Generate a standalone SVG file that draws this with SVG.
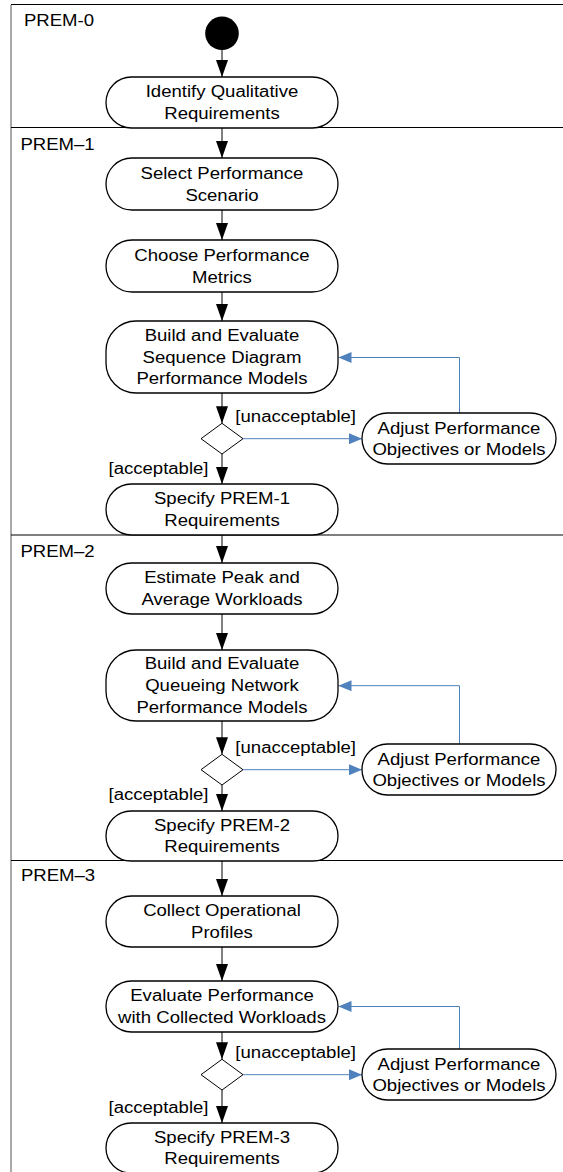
<svg xmlns="http://www.w3.org/2000/svg" width="563" height="1172" viewBox="0 0 563 1172">
<style>
  .bg { fill: #ffffff; }
  .frame { stroke: #555555; stroke-width: 1; fill: none; }
  .sep { stroke: #000000; stroke-width: 1; fill: none; }
  .act { fill: #ffffff; stroke: #000000; stroke-width: 1.3; }
  .dec { fill: #ffffff; stroke: #000000; stroke-width: 1; }
  .flow { stroke: #000000; stroke-width: 1; fill: none; marker-end: url(#ah); }
  .blue { stroke: #4F81BD; stroke-width: 1; fill: none; marker-end: url(#bh); }
  text { font-family: "Liberation Sans", Arial, Helvetica, sans-serif; font-size: 16px; fill: #000000; text-anchor: middle; transform-box: fill-box; transform-origin: center; transform: scaleX(1.16); }
</style>
<defs>
  <marker id="ah" viewBox="0 0 17 12" refX="17" refY="6" markerWidth="17" markerHeight="12" markerUnits="userSpaceOnUse" orient="auto">
    <path d="M0,0 L17,6 L0,12 Z" fill="#000000"/>
  </marker>
  <marker id="bh" viewBox="0 0 13 11" refX="13" refY="5.5" markerWidth="13" markerHeight="11" markerUnits="userSpaceOnUse" orient="auto">
    <path d="M0,0 L13,5.5 L0,11 Z" fill="#4F81BD"/>
  </marker>
</defs>
<rect class="bg" x="0" y="0" width="563" height="1172"/>

<g id="lanes">
  <line class="frame" x1="11" y1="5" x2="11" y2="1172"/>
  <line class="sep" x1="11" y1="4.5" x2="563" y2="4.5"/>
  <line class="sep" x1="11" y1="127.5" x2="563" y2="127.5"/>
  <line class="sep" x1="11" y1="535" x2="563" y2="535"/>
  <line class="sep" x1="11" y1="860.5" x2="563" y2="860.5"/>
  <text x="59" y="26">PREM-0</text>
  <text x="57.5" y="150">PREM–1</text>
  <text x="57.5" y="557.3">PREM–2</text>
  <text x="58" y="881.5">PREM–3</text>
</g>

<g id="connectors">
  <line class="flow" x1="222" y1="50" x2="222" y2="77"/>
  <line class="flow" x1="222" y1="128" x2="222" y2="158"/>
  <line class="flow" x1="222" y1="210" x2="222" y2="240"/>
  <line class="flow" x1="222" y1="292" x2="222" y2="321"/>
  <line class="flow" x1="222" y1="393" x2="222" y2="423.3"/>
  <line class="flow" x1="222" y1="454" x2="222" y2="484"/>
  <line class="flow" x1="222" y1="535" x2="222" y2="563"/>
  <line class="flow" x1="222" y1="614" x2="222" y2="650"/>
  <line class="flow" x1="222" y1="721" x2="222" y2="754.3"/>
  <line class="flow" x1="222" y1="785" x2="222" y2="811"/>
  <line class="flow" x1="222" y1="861" x2="222" y2="896"/>
  <line class="flow" x1="222" y1="947" x2="222" y2="981"/>
  <line class="flow" x1="222" y1="1032" x2="222" y2="1059.3"/>
  <line class="flow" x1="222" y1="1090" x2="222" y2="1123"/>
  <line class="blue" x1="243" y1="438.7" x2="362" y2="438.7"/>
  <path class="blue" d="M459.5,413 V357.5 H338.5"/>
  <line class="blue" x1="243" y1="769.7" x2="362" y2="769.7"/>
  <path class="blue" d="M459.5,744 V685.7 H338.5"/>
  <line class="blue" x1="243" y1="1074.7" x2="362" y2="1074.7"/>
  <path class="blue" d="M459.5,1049 V1006.5 H338.5"/>
  <text x="295.7" y="422.5">[unacceptable]</text>
  <text x="158.5" y="474">[acceptable]</text>
  <text x="295.7" y="753.3">[unacceptable]</text>
  <text x="158.5" y="800.5">[acceptable]</text>
  <text x="295.7" y="1058.3">[unacceptable]</text>
  <text x="158.5" y="1113.5">[acceptable]</text>
</g>

<g id="start">
  <circle cx="222" cy="33.3" r="16.8" fill="#000000"/>
</g>

<g id="identify">
  <rect class="act" x="106" y="77" width="232" height="51" rx="25.5" ry="25.5"/>
  <text x="222" y="97.3">Identify Qualitative</text>
  <text x="222" y="119">Requirements</text>
</g>

<g id="select">
  <rect class="act" x="106" y="158" width="232" height="52" rx="26" ry="26"/>
  <text x="222" y="178.9">Select Performance</text>
  <text x="222" y="200.6">Scenario</text>
</g>

<g id="choose">
  <rect class="act" x="106" y="240" width="232" height="52" rx="26" ry="26"/>
  <text x="222" y="260.9">Choose Performance</text>
  <text x="222" y="282.6">Metrics</text>
</g>

<g id="build1">
  <rect class="act" x="106" y="321" width="232" height="72" rx="30" ry="30"/>
  <text x="222" y="341">Build and Evaluate</text>
  <text x="222" y="362.7">Sequence Diagram</text>
  <text x="222" y="384.4">Performance Models</text>
</g>

<g id="decision1">
  <polygon class="dec" points="222,423.3 243,438.7 222,454 201,438.7"/>
</g>

<g id="adjust1">
  <rect class="act" x="362" y="413" width="194" height="51" rx="25.5" ry="25.5"/>
  <text x="459" y="433.6">Adjust Performance</text>
  <text x="459" y="455">Objectives or Models</text>
</g>

<g id="specify1">
  <rect class="act" x="106" y="484" width="232" height="51" rx="25.5" ry="25.5"/>
  <text x="222" y="504.4">Specify PREM-1</text>
  <text x="222" y="526.1">Requirements</text>
</g>

<g id="estimate">
  <rect class="act" x="106" y="563" width="232" height="51" rx="25.5" ry="25.5"/>
  <text x="222" y="583.4">Estimate Peak and</text>
  <text x="222" y="605.1">Average Workloads</text>
</g>

<g id="build2">
  <rect class="act" x="106" y="650" width="232" height="71" rx="30" ry="30"/>
  <text x="222" y="669.5">Build and Evaluate</text>
  <text x="222" y="691.2">Queueing Network</text>
  <text x="222" y="712.9">Performance Models</text>
</g>

<g id="decision2">
  <polygon class="dec" points="222,754.3 243,769.7 222,785 201,769.7"/>
</g>

<g id="adjust2">
  <rect class="act" x="362" y="744" width="194" height="51" rx="25.5" ry="25.5"/>
  <text x="459" y="764.6">Adjust Performance</text>
  <text x="459" y="786">Objectives or Models</text>
</g>

<g id="specify2">
  <rect class="act" x="106" y="811" width="232" height="50" rx="25" ry="25"/>
  <text x="222" y="830.8">Specify PREM-2</text>
  <text x="222" y="852.5">Requirements</text>
</g>

<g id="collect">
  <rect class="act" x="106" y="896" width="232" height="51" rx="25.5" ry="25.5"/>
  <text x="222" y="916.4">Collect Operational</text>
  <text x="222" y="938.1">Profiles</text>
</g>

<g id="evaluate">
  <rect class="act" x="106" y="981" width="232" height="51" rx="25.5" ry="25.5"/>
  <text x="222" y="1001.4">Evaluate Performance</text>
  <text x="222" y="1023.1">with Collected Workloads</text>
</g>

<g id="decision3">
  <polygon class="dec" points="222,1059.3 243,1074.7 222,1090 201,1074.7"/>
</g>

<g id="adjust3">
  <rect class="act" x="362" y="1049" width="194" height="51" rx="25.5" ry="25.5"/>
  <text x="459" y="1069.6">Adjust Performance</text>
  <text x="459" y="1091">Objectives or Models</text>
</g>

<g id="specify3">
  <rect class="act" x="106" y="1123" width="232" height="50" rx="25" ry="25"/>
  <text x="222" y="1142.8">Specify PREM-3</text>
  <text x="222" y="1164.5">Requirements</text>
</g>
</svg>
